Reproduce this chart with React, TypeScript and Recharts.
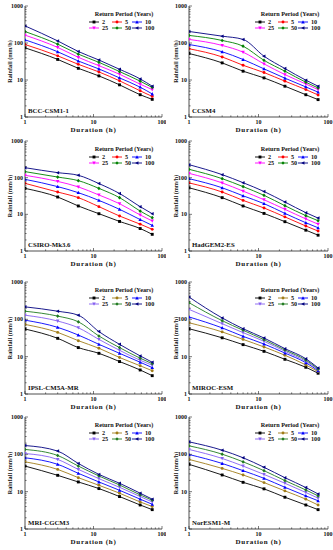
import React from 'react';
import { LineChart, Line, XAxis, YAxis, Legend } from 'recharts';

const durations = [1, 3, 6, 12, 24, 48, 72];
const returnPeriods = ['2', '5', '10', '25', '50', '100'];
const xTicks = [1, 2, 3, 4, 5, 6, 7, 8, 9, 10, 20, 30, 40, 50, 60, 70, 80, 90, 100];
const yTicks = [1, 2, 3, 4, 5, 6, 7, 8, 9, 10, 20, 30, 40, 50, 60, 70, 80, 90, 100, 200, 300, 400, 500, 600, 700, 800, 900, 1000];
const modelNames = ['BCC-CSM1-1', 'CCSM4', 'CSIRO-Mk3.6', 'HadGEM2-ES', 'IPSL-CM5A-MR', 'MIROC-ESM', 'MRI-CGCM3', 'NorESM1-M'];

const colorsTop = ['#000000', '#ff0000', '#0000ff', '#ff00ff', '#008000', '#000080'];
const colorsBottom = ['#000000', '#a07c18', '#0000ff', '#8660f0', '#1f7a1f', '#000080'];
const markerShapes = ['square', 'circle', 'up', 'down', 'diamond', 'left'];

// rows: return periods 2,5,10,25,50,100 ; columns: durations
const bccCsm11 = [
  [74, 36, 20.7, 12.9, 7.4, 4.0, 3.0],
  [91, 45, 26.5, 16.5, 9.5, 5.1, 3.6],
  [122, 58, 32.6, 19.9, 11.4, 6.4, 4.2],
  [163, 76, 41, 24.4, 14.3, 7.7, 5.5],
  [204, 93, 50, 30, 16.9, 9.3, 6.3],
  [290, 114, 59, 34.7, 19.5, 10.7, 6.8],
];
const ccsm4 = [
  [52, 29, 17.3, 11.4, 6.8, 4.0, 2.95],
  [70, 42, 25, 15.9, 9.3, 5.5, 3.95],
  [91, 58, 35.8, 20, 11.2, 6.5, 4.7],
  [125, 86, 56.5, 27.3, 14, 7.8, 5.5],
  [160, 117, 82, 34, 17.3, 8.7, 6.1],
  [205, 153, 125, 44, 20.4, 9.9, 6.8],
];
const csiroMk36 = [
  [51, 29.7, 16.9, 10.4, 6.4, 4.1, 2.85],
  [70, 40.6, 28.5, 16.2, 9.0, 5.4, 3.9],
  [90, 57, 39, 24, 13.7, 7.2, 5.0],
  [116, 79, 56, 33.7, 19.5, 9.6, 6.6],
  [146, 104, 83, 51, 28.5, 12.3, 8.1],
  [187, 137, 116, 69, 37, 16.2, 10.4],
];
const hadgem2Es = [
  [53, 28.5, 16.9, 10.6, 6.3, 3.7, 2.7],
  [72, 40.6, 24, 14.9, 8.5, 4.8, 3.5],
  [94, 53, 32, 19.6, 10.6, 5.9, 4.3],
  [131, 72, 43, 25, 13.7, 7.5, 5.4],
  [169, 94, 57, 33, 17.2, 9.2, 6.7],
  [226, 121, 73, 42, 21.7, 11.1, 7.9],
];
const ipslCm5aMr = [
  [55, 31, 17.5, 12.3, 7.4, 4.4, 3.1],
  [73, 44.7, 26.8, 16.8, 9.5, 5.7, 4.2],
  [95, 61, 38, 21.4, 12.3, 7.1, 5.1],
  [129, 90, 59.5, 29, 14.8, 8.0, 5.9],
  [165, 122, 86, 35.7, 17.5, 9.1, 6.5],
  [216, 165, 129, 47, 21.4, 10.5, 7.1],
];
const mirocEsm = [
  [56, 32, 21, 13.9, 8.5, 5.2, 3.6],
  [81, 46, 29, 18.2, 10.9, 6.0, 4.0],
  [116, 59, 35, 21.8, 12.5, 6.9, 4.2],
  [185, 76.5, 44, 25.8, 13.9, 7.5, 4.5],
  [279, 92, 51, 28.5, 15.1, 8.1, 4.7],
  [396, 109, 56, 31.6, 16.4, 8.8, 5.0],
];
const mriCgcm3 = [
  [48.5, 27.4, 18.2, 12.1, 7.4, 4.4, 3.3],
  [63, 39.5, 23.7, 14.8, 9.1, 5.3, 4.0],
  [81, 54, 31, 18.2, 10.9, 6.3, 4.6],
  [105, 73, 39.5, 22.3, 13.1, 7.4, 5.3],
  [135, 93, 48.5, 26.3, 15.1, 8.2, 5.9],
  [172, 122, 57, 29, 16.8, 9.1, 6.3],
];
const noresm1M = [
  [54, 28, 17.8, 11.9, 7.1, 4.4, 3.3],
  [73, 42, 28, 17.5, 10.5, 6.3, 4.4],
  [99, 57, 36.5, 22.8, 13.1, 7.7, 5.7],
  [135, 77.6, 48.5, 29, 16.8, 9.5, 6.7],
  [169, 101, 63, 36.5, 19.8, 11.1, 7.7],
  [216, 129, 81, 45, 23.7, 12.9, 8.7],
];

const modelValues = [bccCsm11, ccsm4, csiroMk36, hadgem2Es, ipslCm5aMr, mirocEsm, mriCgcm3, noresm1M];

const FONT = '"Liberation Serif", "Times New Roman", serif';
const AXIS = '#222';

const cols = [
  { left: 0, width: 166, plotLeft: 25, plotRight: 162 },
  { left: 166, width: 167, plotLeft: 23, plotRight: 162 },
];
const rows = [
  { plotTop: 6, plotBottom: 117 },
  { plotTop: 141, plotBottom: 251 },
  { plotTop: 282, plotBottom: 394 },
  { plotTop: 417, plotBottom: 529 },
];

const isMajor = (v: number) => {
  const l = Math.log10(v);
  return Math.abs(l - Math.round(l)) < 1e-9;
};

function Marker({ cx, cy, shape, color }: any) {
  if (cx == null || cy == null) return null;
  const s = 1.45;
  if (shape === 'square') return <rect x={cx - s} y={cy - s} width={2 * s} height={2 * s} fill={color} />;
  if (shape === 'circle') return <circle cx={cx} cy={cy} r={s} fill={color} />;
  if (shape === 'up') return <polygon points={`${cx},${cy - s - 0.4} ${cx - s - 0.3},${cy + s} ${cx + s + 0.3},${cy + s}`} fill={color} />;
  if (shape === 'down') return <polygon points={`${cx},${cy + s + 0.4} ${cx - s - 0.3},${cy - s} ${cx + s + 0.3},${cy - s}`} fill={color} />;
  if (shape === 'diamond') return <polygon points={`${cx},${cy - s - 0.4} ${cx + s + 0.2},${cy} ${cx},${cy + s + 0.4} ${cx - s - 0.2},${cy}`} fill={color} />;
  return <polygon points={`${cx - s - 0.4},${cy} ${cx + s},${cy - s - 0.3} ${cx + s},${cy + s + 0.3}`} fill={color} />;
}

const xTickBottom = (p: any) => {
  const v = p.payload.value;
  const major = isMajor(v);
  const len = major ? 3 : 1.6;
  return (
    <g>
      <line x1={p.x} y1={p.y} x2={p.x} y2={p.y - len} stroke={AXIS} strokeWidth={0.6} />
      {major && (
        <text x={p.x} y={p.y + 6.5} textAnchor="middle" fontSize={6} fontWeight="bold" fontFamily={FONT} fill="#111">
          {v}
        </text>
      )}
    </g>
  );
};
const xTickTop = (p: any) => {
  const len = isMajor(p.payload.value) ? 3 : 1.6;
  return <line x1={p.x} y1={p.y} x2={p.x} y2={p.y + len} stroke={AXIS} strokeWidth={0.6} />;
};
const yTickLeft = (p: any) => {
  const v = p.payload.value;
  const major = isMajor(v);
  const len = major ? 3 : 1.6;
  return (
    <g>
      <line x1={p.x} y1={p.y} x2={p.x + len} y2={p.y} stroke={AXIS} strokeWidth={0.6} />
      {major && (
        <text x={p.x - 2} y={p.y} dy="0.35em" textAnchor="end" fontSize={6} fontWeight="bold" fontFamily={FONT} fill="#111">
          {v}
        </text>
      )}
    </g>
  );
};
const yTickRight = (p: any) => {
  const len = isMajor(p.payload.value) ? 3 : 1.6;
  return <line x1={p.x} y1={p.y} x2={p.x - len} y2={p.y} stroke={AXIS} strokeWidth={0.6} />;
};

function LegendBox({ colors }: { colors: string[] }) {
  const itemX = [2, 25, 45];
  return (
    <svg width={76} height={24} style={{ display: 'block', overflow: 'visible' }}>
      <text x={37} y={7} textAnchor="middle" fontSize={6.2} fontWeight="bold" fontFamily={FONT} fill="#111">
        Return Period (Years)
      </text>
      {returnPeriods.map((rp, i) => {
        const x0 = itemX[i % 3];
        const y0 = i < 3 ? 13 : 19;
        return (
          <g key={rp}>
            <line x1={x0} y1={y0} x2={x0 + 10} y2={y0} stroke={colors[i]} strokeWidth={0.9} />
            <Marker cx={x0 + 5} cy={y0} shape={markerShapes[i]} color={colors[i]} />
            <text x={x0 + 13} y={y0} dy="0.35em" fontSize={6.2} fontWeight="bold" fontFamily={FONT} fill="#111">
              {rp}
            </text>
          </g>
        );
      })}
    </svg>
  );
}

function Panel({ index }: { index: number }) {
  const col = cols[index % 2];
  const row = rows[Math.floor(index / 2)];
  const values = modelValues[index];
  const name = modelNames[index];
  const colors = index < 4 ? colorsTop : colorsBottom;
  const marginTop = 6;
  const xAxisH = 20;
  const plotH = row.plotBottom - row.plotTop;
  const height = marginTop + plotH + xAxisH;
  const chartTop = row.plotTop - marginTop;
  const data = durations.map((d, i) => {
    const r: any = { d };
    returnPeriods.forEach((rp, j) => {
      r['r' + rp] = values[j][i];
    });
    return r;
  });

  const xLabel = (props: any) => {
    const vb = props.viewBox || {};
    return (
      <g>
        <text x={vb.x + vb.width / 2} y={vb.y + 15} textAnchor="middle" fontSize={7} letterSpacing={0.7} fontWeight="bold" fontFamily={FONT} fill="#111">
          Duration (h)
        </text>
        <text x={vb.x + 3} y={vb.y - 4} fontSize={6.8} fontWeight="bold" fontFamily={FONT} fill="#111">
          {name}
        </text>
      </g>
    );
  };
  const yLabel = (props: any) => {
    const vb = props.viewBox || {};
    const cx = vb.x + 10;
    const cy = vb.y + vb.height / 2;
    return (
      <text x={cx} y={cy} transform={`rotate(-90 ${cx} ${cy})`} textAnchor="middle" dy="0.35em" fontSize={6.2} fontWeight="bold" fontFamily={FONT} fill="#111">
        Rainfall (mm/h)
      </text>
    );
  };

  return (
    <div style={{ position: 'absolute', left: col.left, top: chartTop, width: col.width, height }}>
      <LineChart
        width={col.width}
        height={height}
        data={data}
        margin={{ top: marginTop, right: col.width - col.plotRight, bottom: 0, left: 0 }}
      >
        <XAxis
          xAxisId="b"
          dataKey="d"
          type="number"
          scale="log"
          domain={[1, 100]}
          allowDataOverflow
          ticks={xTicks}
          interval={0}
          tick={xTickBottom}
          tickLine={false}
          tickSize={0}
          tickMargin={0}
          height={xAxisH}
          axisLine={{ stroke: AXIS, strokeWidth: 0.8 }}
          label={{ content: xLabel }}
        />
        <XAxis
          xAxisId="t"
          orientation="top"
          dataKey="d"
          type="number"
          scale="log"
          domain={[1, 100]}
          allowDataOverflow
          ticks={xTicks}
          interval={0}
          tick={xTickTop}
          tickLine={false}
          tickSize={0}
          tickMargin={0}
          height={0}
          axisLine={{ stroke: AXIS, strokeWidth: 0.8 }}
        />
        <YAxis
          yAxisId="l"
          type="number"
          scale="log"
          domain={[1, 1000]}
          allowDataOverflow
          ticks={yTicks}
          interval={0}
          tick={yTickLeft}
          tickLine={false}
          tickSize={0}
          tickMargin={0}
          width={col.plotLeft}
          axisLine={{ stroke: AXIS, strokeWidth: 0.8 }}
          label={{ content: yLabel }}
        />
        <YAxis
          yAxisId="r"
          orientation="right"
          type="number"
          scale="log"
          domain={[1, 1000]}
          allowDataOverflow
          ticks={yTicks}
          interval={0}
          tick={yTickRight}
          tickLine={false}
          tickSize={0}
          tickMargin={0}
          width={0}
          axisLine={{ stroke: AXIS, strokeWidth: 0.8 }}
        />
        <Legend
          layout="vertical"
          align="center"
          verticalAlign="middle"
          wrapperStyle={{ left: col.plotRight - 75, top: marginTop + 3, width: 76, height: 24 }}
          content={() => <LegendBox colors={colors} />}
        />
        {returnPeriods.map((rp, j) => (
          <Line
            key={rp}
            xAxisId="b"
            yAxisId="l"
            dataKey={'r' + rp}
            name={rp}
            type="monotone"
            stroke={colors[j]}
            strokeWidth={0.9}
            isAnimationActive={false}
            dot={(p: any) => <Marker key={`m-${rp}-${p.index}`} cx={p.cx} cy={p.cy} shape={markerShapes[j]} color={colors[j]} />}
          />
        ))}
      </LineChart>
    </div>
  );
}

export default function App() {
  return (
    <div style={{ position: 'absolute', left: 0, top: 0, width: 333, height: 550, background: '#fff', overflow: 'hidden' }}>
      {modelNames.map((_, i) => (
        <Panel key={i} index={i} />
      ))}
    </div>
  );
}
